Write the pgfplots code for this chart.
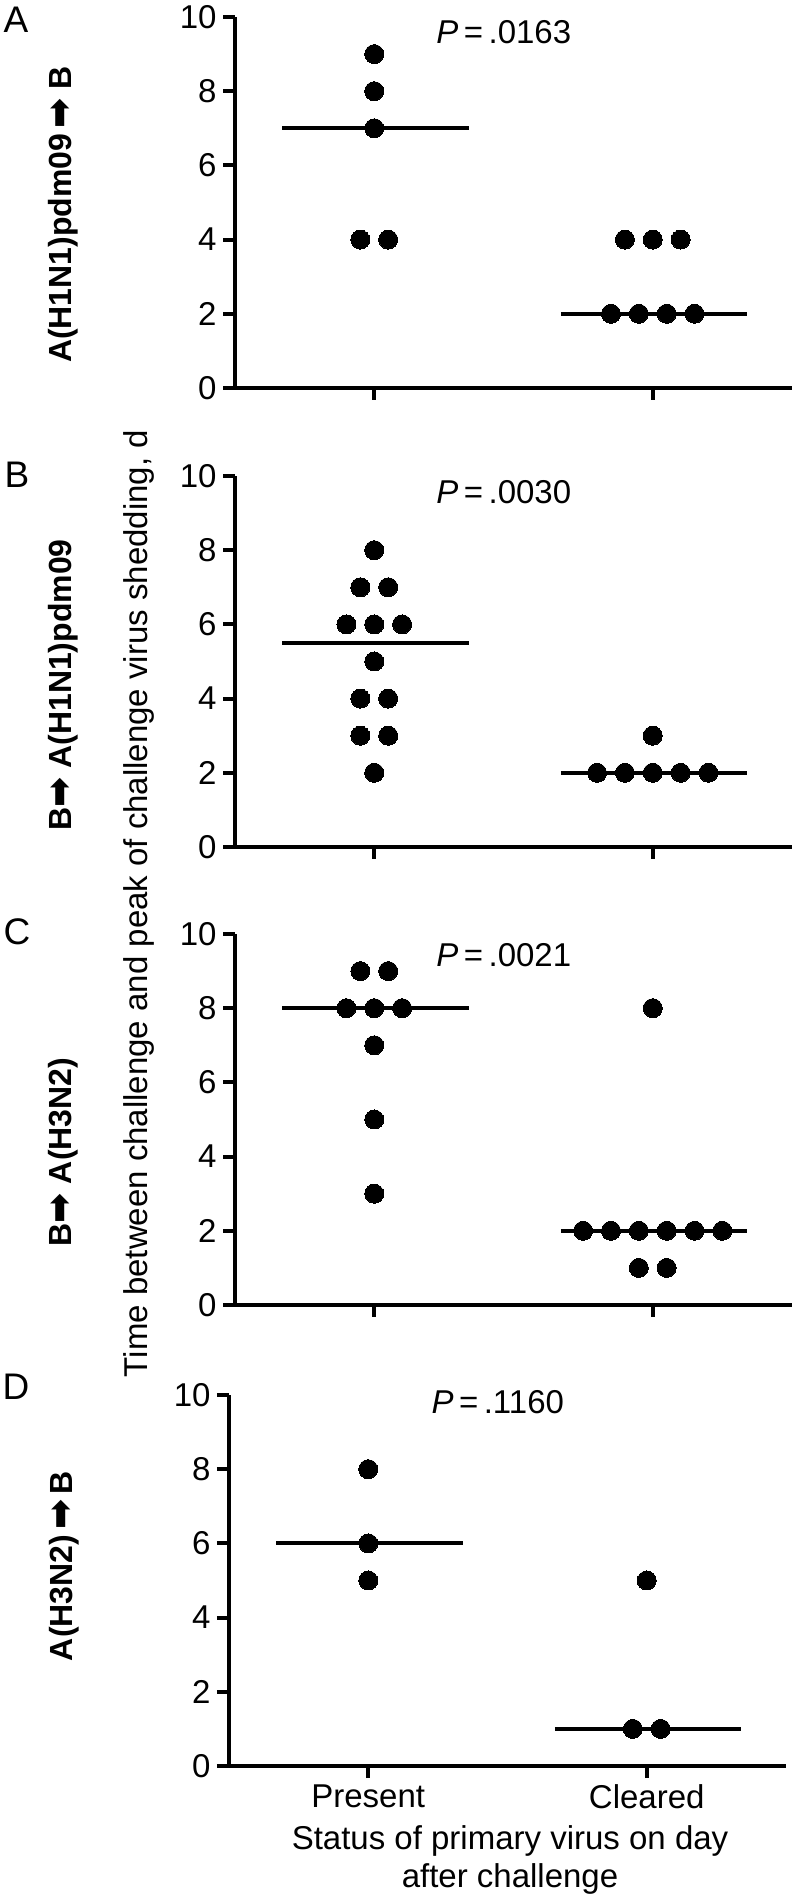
\documentclass[border=0pt]{standalone}
\usepackage{fontspec}
\setmainfont{Liberation Sans}
\newfontfamily\arrowfont{DejaVu Sans}
\usepackage{pgfplots}
\pgfplotsset{compat=1.18}
\newcommand{\arr}{{\arrowfont\fontsize{18}{16}\selectfont ➡}}
\pgfplotsset{
  panel/.style={
    scale only axis, width=278.5pt, height=185.5pt,
    anchor=south west,
    xmin=0.5, xmax=2.5, ymin=0, ymax=10,
    axis lines=left,
    axis line style={line width=2pt, -},
    xtick={1,2}, ytick={0,2,4,6,8,10},
    tick style={line width=2pt, black},
    major tick length=6pt,
    tick align=outside,
    xticklabels={},
    /pgf/number format/assume math mode=true,
    tick label style={font=\fontsize{16.5}{19}\selectfont},
    yticklabel style={inner xsep=3pt},
    clip=false,
  },
  dots/.style={only marks, mark=*, mark size=4.75pt, black, mark options={fill=black, draw=black, line width=0pt}},
  med/.style={black, line width=2pt, no marks},
}
\begin{document}
\begin{tikzpicture}
\path[use as bounding box] (0,0) rectangle (397.5pt,950pt);

% ---------------- Panel A
\begin{axis}[panel, at={(117.5pt,756pt)}]
\addplot[med] coordinates {(0.67,7) (1.34,7)};
\addplot[med] coordinates {(1.67,2) (2.34,2)};
\addplot[dots] coordinates {(1,9) (1,8) (1,7) (0.95,4) (1.05,4)};
\addplot[dots] coordinates {(1.9,4) (2,4) (2.1,4) (1.85,2) (1.95,2) (2.05,2) (2.15,2)};
\node[font=\fontsize{16.5}{19}\selectfont] at (axis cs:1.465,9.58) {\textit{P}\,=\,.0163};
\end{axis}

% ---------------- Panel B
\begin{axis}[panel, at={(117.5pt,526.5pt)}]
\addplot[med] coordinates {(0.67,5.5) (1.34,5.5)};
\addplot[med] coordinates {(1.67,2) (2.34,2)};
\addplot[dots] coordinates {(1,8) (0.95,7) (1.05,7) (0.9,6) (1,6) (1.1,6) (1,5) (0.95,4) (1.05,4) (0.95,3) (1.05,3) (1,2)};
\addplot[dots] coordinates {(2,3) (1.8,2) (1.9,2) (2,2) (2.1,2) (2.2,2)};
\node[font=\fontsize{16.5}{19}\selectfont] at (axis cs:1.465,9.57) {\textit{P}\,=\,.0030};
\end{axis}

% ---------------- Panel C
\begin{axis}[panel, at={(117.5pt,297.5pt)}]
\addplot[med] coordinates {(0.67,8) (1.34,8)};
\addplot[med] coordinates {(1.67,2) (2.34,2)};
\addplot[dots] coordinates {(0.95,9) (1.05,9) (0.9,8) (1,8) (1.1,8) (1,7) (1,5) (1,3)};
\addplot[dots] coordinates {(2,8) (1.75,2) (1.85,2) (1.95,2) (2.05,2) (2.15,2) (2.25,2) (1.95,1) (2.05,1)};
\node[font=\fontsize{16.5}{19}\selectfont] at (axis cs:1.465,9.43) {\textit{P}\,=\,.0021};
\end{axis}

% ---------------- Panel D
\begin{axis}[panel, at={(114.5pt,67pt)}, xticklabels={Present,Cleared}]
\addplot[med] coordinates {(0.67,6) (1.34,6)};
\addplot[med] coordinates {(1.67,1) (2.34,1)};
\addplot[dots] coordinates {(1,8) (1,6) (1,5)};
\addplot[dots] coordinates {(2,5) (1.95,1) (2.05,1)};
\node[font=\fontsize{16.5}{19}\selectfont] at (axis cs:1.465,9.8) {\textit{P}\,=\,.1160};
\end{axis}

% panel letters
\begin{scope}[every node/.style={font=\fontsize{18.5}{21}\selectfont}]
\node at (8pt,940pt) {A};
\node at (8.5pt,712.5pt) {B};
\node at (8.5pt,484pt) {C};
\node at (8pt,256.5pt) {D};
\end{scope}

% group labels
\begin{scope}[every node/.style={rotate=90, anchor=base, font=\fontsize{16}{19}\selectfont\bfseries}]
\node at (35.5pt,842.75pt) {A(H1N1)pdm09\,\arr\ B};
\node at (35.5pt,607.5pt) {B\arr\ A(H1N1)pdm09};
\node at (35.5pt,374pt) {B\arr\ A(H3N2)};
\node at (36pt,167pt) {A(H3N2)\,\arr\,B};
\end{scope}

% shared y label
\node[rotate=90, anchor=base, font=\fontsize{16.5}{19}\selectfont] at (73.5pt,498.25pt) {Time between challenge and peak of challenge virus shedding, d};

% x label
\node[anchor=base, font=\fontsize{16.5}{19}\selectfont] at (255pt,25pt) {Status of primary virus on day};
\node[anchor=base, font=\fontsize{16.5}{19}\selectfont] at (255pt,6pt) {after challenge};
\end{tikzpicture}
\end{document}
